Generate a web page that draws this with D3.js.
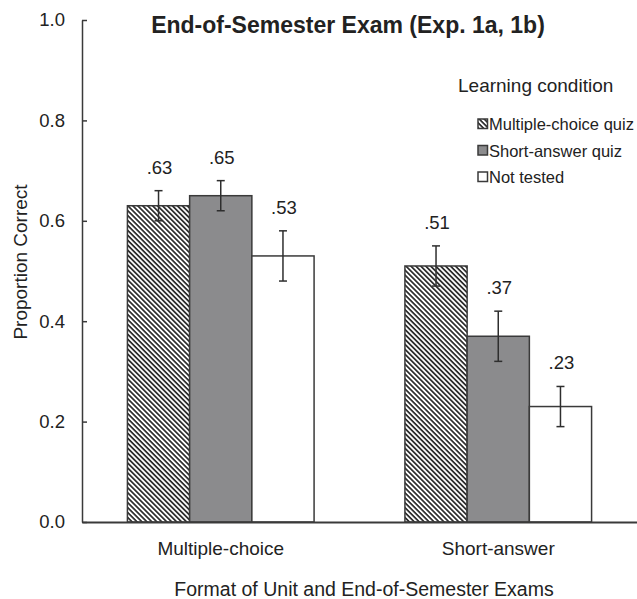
<!DOCTYPE html>
<html>
<head>
<meta charset="utf-8">
<script src="https://cdn.jsdelivr.net/npm/d3@7"></script>
<style>
  html, body { margin: 0; padding: 0; background: #fff; }
  svg { display: block; font-family: "Liberation Sans", Arial, Helvetica, sans-serif; }
</style>
</head>
<body>
<svg id="chart" width="637" height="599"></svg>
<script>
// ---- data ----
const categories = ["Multiple-choice", "Short-answer"];
const series = ["Multiple-choice quiz", "Short-answer quiz", "Not tested"];
const mcQuizValues = [0.63, 0.51];
const saQuizValues = [0.65, 0.37];
const notTestedValues = [0.53, 0.23];
const mcQuizErrors = [0.03, 0.04];
const saQuizErrors = [0.03, 0.05];
const notTestedErrors = [0.05, 0.04];
const yTicks = [0.0, 0.2, 0.4, 0.6, 0.8, 1.0];
const titleText = "End-of-Semester Exam (Exp. 1a, 1b)";
const xTitle = "Format of Unit and End-of-Semester Exams";
const yTitle = "Proportion Correct";
const legendTitle = "Learning condition";

const valuesBySeries = [mcQuizValues, saQuizValues, notTestedValues];
const errorsBySeries = [mcQuizErrors, saQuizErrors, notTestedErrors];

const rows = [];
categories.forEach((c, ci) => {
  series.forEach((s, si) => {
    rows.push({ cat: c, ser: s, si, value: valuesBySeries[si][ci], err: errorsBySeries[si][ci] });
  });
});

// ---- layout ----
const svg = d3.select("#chart");
const plotLeft = 82, plotRight = 637, plotTop = 20, plotBottom = 522;
const textColor = "#222";
const strokeColor = "#3a3a3a";

const defs = svg.append("defs");
const pat = defs.append("pattern")
  .attr("id", "hatch")
  .attr("patternUnits", "userSpaceOnUse")
  .attr("width", 3.5).attr("height", 3.5)
  .attr("patternTransform", "rotate(-45)");
pat.append("rect").attr("width", 3.5).attr("height", 3.5).attr("fill", "#fff");
pat.append("line").attr("x1", 0.9).attr("y1", 0).attr("x2", 0.9).attr("y2", 3.5)
  .attr("stroke", "#2a2a2a").attr("stroke-width", 1.7);

const fills = ["url(#hatch)", "#8b8b8d", "#ffffff"];

const x0 = d3.scaleBand().domain(categories).range([plotLeft, plotRight]).paddingInner(0).paddingOuter(0);
const x1 = d3.scaleBand().domain(series).range([0, x0.bandwidth()]).paddingInner(0).paddingOuter(0.73);
const y = d3.scaleLinear().domain([0, 1]).range([plotBottom, plotTop]);

// bars
const g = svg.append("g");
g.selectAll("rect.bar").data(rows).join("rect")
  .attr("class", "bar")
  .attr("x", d => x0(d.cat) + x1(d.ser))
  .attr("y", d => y(d.value))
  .attr("width", x1.bandwidth())
  .attr("height", d => y(0) - y(d.value))
  .attr("fill", d => fills[d.si])
  .attr("stroke", strokeColor)
  .attr("stroke-width", 1.5);

// error bars
const cap = 4;
const cx = d => x0(d.cat) + x1(d.ser) + x1.bandwidth() / 2;
const eb = g.selectAll("g.err").data(rows).join("g").attr("class", "err")
  .attr("stroke", "#2e2e2e").attr("stroke-width", 1.5);
eb.append("line")
  .attr("x1", cx).attr("x2", cx)
  .attr("y1", d => y(d.value - d.err)).attr("y2", d => y(d.value + d.err));
eb.append("line")
  .attr("x1", d => cx(d) - cap).attr("x2", d => cx(d) + cap)
  .attr("y1", d => y(d.value + d.err)).attr("y2", d => y(d.value + d.err));
eb.append("line")
  .attr("x1", d => cx(d) - cap).attr("x2", d => cx(d) + cap)
  .attr("y1", d => y(d.value - d.err)).attr("y2", d => y(d.value - d.err));

// value labels
g.selectAll("text.val").data(rows).join("text")
  .attr("class", "val")
  .attr("x", d => cx(d) + 1)
  .attr("y", d => y(d.value + d.err) - 17)
  .attr("text-anchor", "middle")
  .attr("font-size", 18.5)
  .attr("fill", textColor)
  .text(d => d3.format(".2f")(d.value).replace(/^0/, ""));

// y axis
const yAxis = svg.append("g")
  .attr("transform", `translate(${plotLeft},0)`)
  .call(d3.axisLeft(y).tickValues(yTicks).tickFormat(d3.format(".1f"))
    .tickSizeInner(-5).tickSizeOuter(0).tickPadding(17));
yAxis.selectAll("path, line").attr("stroke", strokeColor).attr("stroke-width", 1.5);
yAxis.selectAll("text").attr("font-size", 18.5).attr("fill", textColor)
  .attr("font-family", "Liberation Sans, Arial, sans-serif");

// x axis
const xAxis = svg.append("g")
  .attr("transform", `translate(0,${plotBottom})`)
  .call(d3.axisBottom(x0).tickSize(0).tickPadding(20));
xAxis.selectAll("path").attr("stroke", strokeColor).attr("stroke-width", 1.8);
xAxis.selectAll("text").attr("font-size", 19).attr("fill", textColor)
  .attr("font-family", "Liberation Sans, Arial, sans-serif");

// axis titles
svg.append("text")
  .attr("x", 364).attr("y", 596)
  .attr("text-anchor", "middle")
  .attr("font-size", 19.5).attr("fill", textColor)
  .text(xTitle);

svg.append("text")
  .attr("transform", "translate(27,262) rotate(-90)")
  .attr("text-anchor", "middle")
  .attr("font-size", 19).attr("fill", textColor)
  .text(yTitle);

// title
svg.append("text")
  .attr("x", 348).attr("y", 33)
  .attr("text-anchor", "middle")
  .attr("font-size", 23).attr("font-weight", "bold").attr("fill", textColor)
  .text(titleText);

// legend
svg.append("text")
  .attr("x", 458).attr("y", 92)
  .attr("font-size", 19).attr("fill", textColor)
  .text(legendTitle);

const leg = svg.append("g").selectAll("g").data(series).join("g")
  .attr("transform", (d, i) => `translate(478,${124 + i * 26.5})`);
leg.append("rect")
  .attr("x", 0).attr("y", -5).attr("width", 9.5).attr("height", 9.5)
  .attr("fill", (d, i) => fills[i])
  .attr("stroke", strokeColor).attr("stroke-width", 1.5);
leg.append("text")
  .attr("x", 11).attr("y", 6)
  .attr("font-size", 16.5).attr("fill", textColor)
  .text(d => d);
</script>
</body>
</html>
